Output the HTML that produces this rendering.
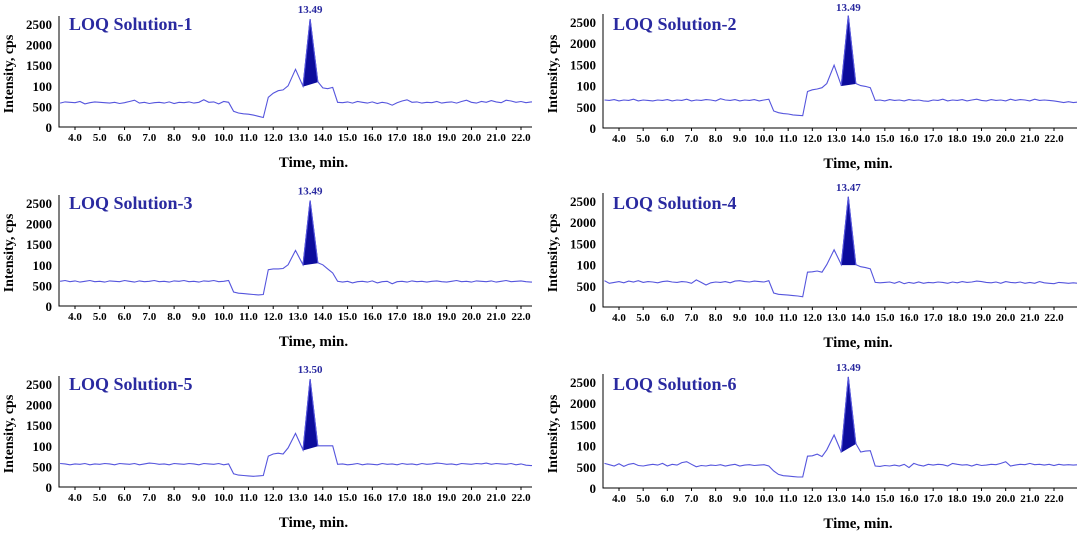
<!DOCTYPE html>
<html><head><meta charset="utf-8"><style>
html,body{margin:0;padding:0;background:#fff;}
svg{display:block;font-family:"Liberation Serif",serif;}
</style></head><body>
<svg id="chart" width="1079" height="533" viewBox="0 0 1079 533"></svg>
<script>
const times=[3.4,3.6,3.8,4.0,4.2,4.4,4.6,4.8,5.0,5.2,5.4,5.6,5.8,6.0,6.2,6.4,6.6,6.8,7.0,7.2,7.4,7.6,7.8,8.0,8.2,8.4,8.6,8.8,9.0,9.2,9.4,9.6,9.8,10.0,10.2,10.4,10.6,10.8,11.0,11.2,11.4,11.6,11.8,12.0,12.2,12.4,12.6,12.9,13.2,13.49,13.8,14.0,14.2,14.4,14.6,14.8,15.0,15.2,15.4,15.6,15.8,16.0,16.2,16.4,16.6,16.8,17.0,17.2,17.4,17.6,17.8,18.0,18.2,18.4,18.6,18.8,19.0,19.2,19.4,19.6,19.8,20.0,20.2,20.4,20.6,20.8,21.0,21.2,21.4,21.6,21.8,22.0,22.2,22.4,22.6,22.8,23.0];
const s1=[580,610,600,590,620,560,590,610,600,590,580,600,570,590,620,650,580,600,570,590,600,580,610,570,600,590,610,580,600,660,600,610,560,620,600,380,340,320,310,290,260,230,720,820,880,900,1000,1400,990,2620,1100,950,930,960,600,590,610,580,620,600,580,610,570,600,580,530,590,630,660,600,610,580,600,590,620,580,600,610,580,620,650,600,580,620,600,640,610,590,650,630,600,620,590,610,600,610,600];
const s2=[660,650,670,640,660,650,680,640,660,650,640,660,650,670,640,660,650,680,640,660,650,670,660,640,690,660,650,670,640,660,650,670,640,660,680,400,360,340,330,310,300,290,860,900,920,950,1050,1480,1000,2650,1050,1000,980,950,650,660,640,670,650,660,640,670,650,660,640,630,660,650,680,640,660,650,670,640,660,680,650,640,670,650,660,640,680,650,670,660,640,680,650,660,650,640,620,600,620,600,610];
const s3=[600,620,590,610,580,600,620,590,600,580,610,600,590,620,600,580,610,590,600,620,590,600,580,610,600,620,590,600,580,610,600,620,590,600,620,340,310,300,290,280,270,280,880,900,900,910,1000,1350,1000,2560,1050,1000,900,800,600,580,600,560,590,600,580,610,560,590,600,540,590,600,580,610,590,600,580,600,610,590,580,600,620,590,600,580,610,600,590,610,580,600,620,590,600,610,590,580,590,600,590];
const s4=[620,560,580,600,570,610,590,620,580,600,590,570,600,610,590,580,600,590,560,640,580,520,570,590,580,600,570,610,620,600,590,610,600,590,620,330,300,290,280,270,260,240,820,830,850,820,1000,1350,1000,2600,1000,950,930,900,580,570,580,590,560,600,550,580,560,590,560,580,570,590,580,560,590,570,600,580,590,610,600,580,570,590,560,600,580,570,590,560,580,560,600,570,560,550,580,570,560,570,560];
const s5=[570,560,540,560,550,570,540,560,550,570,560,540,570,560,550,570,540,560,580,570,550,560,540,570,560,550,570,560,540,570,560,550,570,540,560,320,290,280,270,260,270,280,750,800,820,800,950,1300,900,2620,1000,1000,1000,1000,550,560,540,550,570,540,560,550,540,570,550,560,540,570,550,560,540,570,550,560,580,570,550,560,540,570,560,550,570,560,580,550,570,560,550,570,540,560,530,520,530,520,530];
const s6=[580,550,520,570,510,560,580,530,520,540,560,540,580,520,560,540,600,620,560,500,530,520,540,530,550,520,540,560,520,540,550,530,540,550,520,400,320,290,280,270,260,260,750,760,800,740,900,1250,850,2620,1050,850,870,880,520,510,530,520,540,520,560,480,580,540,520,560,540,560,550,520,580,560,540,550,520,560,530,540,560,550,580,620,520,540,560,550,580,550,560,540,560,530,560,540,550,540,550];
const series=[s1,s2,s3,s4,s5,s6];
const titles=["LOQ Solution-1","LOQ Solution-2","LOQ Solution-3","LOQ Solution-4","LOQ Solution-5","LOQ Solution-6"];
const peakLabels=["13.49","13.49","13.49","13.47","13.50","13.49"];
const yTicks=[0,500,1000,1500,2000,2500];
const yTickLabels=["0","500","100","1500","2000","2500"];
const xTicks=[4,5,6,7,8,9,10,11,12,13,14,15,16,17,18,19,20,21,22];
const peakStart=48, peakIdx=49, peakEnd=50;

const svg=document.getElementById('chart');
const NS='http://www.w3.org/2000/svg';
function mk(tag,attrs,parent){const e=document.createElementNS(NS,tag);for(const k in attrs)e.setAttribute(k,attrs[k]);(parent||svg).appendChild(e);return e;}
const defs=mk('defs',{});
const cols=[{ax:59,right:532,t4:75,t22:521,y0:127,y25:24,tx:69},{ax:603,right:1077,t4:619,t22:1054,y0:128,y25:22,tx:613}];
const rowOff=[0,179,360];
for(let p=0;p<6;p++){
  const c=cols[p%2], off=rowOff[Math.floor(p/2)];
  const g=mk('g',{});
  
  
  const X=t=>c.t4+(t-4)*(c.t22-c.t4)/18;
  const Y=v=>off+c.y0-v*(c.y0-c.y25)/2500;
  const cp=mk('clipPath',{id:'clip'+p},defs);
  mk('rect',{x:c.ax,y:off,width:c.right-c.ax,height:c.y0+1},cp);
  const ax=mk('path',{d:`M${c.ax},${off+c.y25-8}V${off+c.y0}H${c.right}`,stroke:'#000',fill:'none','stroke-width':1},g);
  
  yTicks.forEach((v,i)=>{
    const t=mk('text',{x:c.ax-7,y:Y(v)+5,'text-anchor':'end','font-size':13,'font-weight':'bold',fill:'#000'},g);
    t.textContent=yTickLabels[i];
    
  });
  xTicks.forEach(v=>{
    mk('line',{x1:X(v),x2:X(v),y1:off+c.y0,y2:off+c.y0+3,stroke:'#000'},g);
    const t=mk('text',{x:X(v),y:off+c.y0+14,'text-anchor':'middle','font-size':11,'font-weight':'bold',fill:'#000'},g);
    t.textContent=v.toFixed(1);
    
  });
  const yt=mk('text',{transform:`translate(${c.ax-46},${off+74}) rotate(-90)`,'text-anchor':'middle','font-size':14,'font-weight':'bold',fill:'#000'},g);
  yt.textContent='Intensity, cps';
  
  const xt=mk('text',{x:(c.ax+c.right)/2+18,y:off+c.y0+40,'text-anchor':'middle','font-size':15,'font-weight':'bold',fill:'#000'},g);
  xt.textContent='Time, min.';
  
  const tt=mk('text',{x:c.tx,y:off+30,'font-size':18,'font-weight':'bold',fill:'#2a2aa0'},g);
  tt.textContent=titles[p];
  
  const s=series[p];
  const pts=times.map((t,i)=>X(t).toFixed(1)+','+Y(s[i]).toFixed(1));
  const fill=mk('polygon',{points:[peakStart,peakIdx,peakEnd].map(i=>X(times[i]).toFixed(1)+','+Y(s[i]).toFixed(1)).join(' '),fill:'#0c0c9c',stroke:'#0c0c9c'},g);
  
  const line=mk('polyline',{points:pts.join(' '),fill:'none',stroke:'#5555dd','stroke-width':1.1,'clip-path':'url(#clip'+p+')'},g);
  
  const pl=mk('text',{x:X(times[peakIdx]),y:Math.max(Y(s[peakIdx])-6,off+11),'text-anchor':'middle','font-size':11,'font-weight':'bold',fill:'#2a2aa0'},g);
  pl.textContent=peakLabels[p];
  
}
</script>
</body></html>
